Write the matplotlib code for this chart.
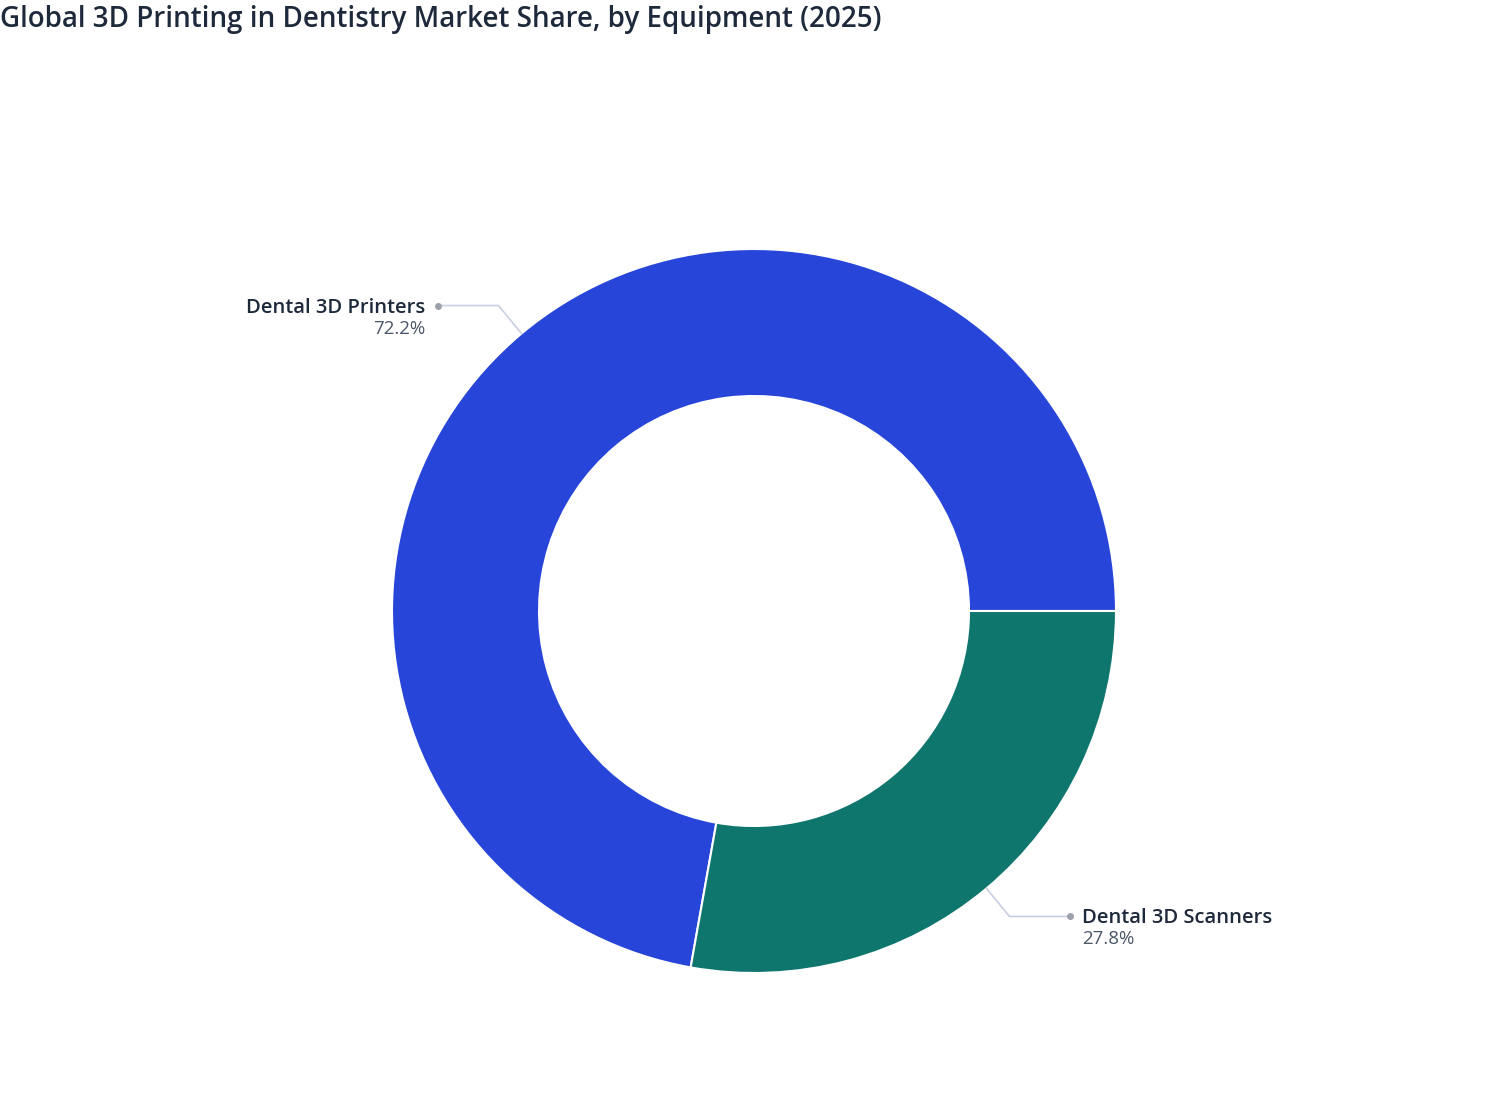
import numpy as np
import matplotlib; matplotlib.use("Agg")
import matplotlib.pyplot as plt

plt.rcParams["font.family"] = ["Open Sans", "DejaVu Sans"]

# data
labels = ["Dental 3D Printers", "Dental 3D Scanners"]
shares = [72.2, 27.8]
colors = ["#2745D8", "#0F766E"]
title = "Global 3D Printing in Dentistry Market Share, by Equipment (2025)"

W, H = 1508, 1120
fig = plt.figure(figsize=(W/100, H/100), dpi=100)
ax = fig.add_axes([0, 0, 1, 1])
ax.set_xlim(0, W); ax.set_ylim(0, H); ax.set_aspect("equal"); ax.axis("off")

cx, cy, R = 754, H-611, 362
hole = 215/362
wedges, _ = ax.pie(shares, colors=colors, startangle=0, counterclock=True,
                   center=(cx, cy), radius=R, frame=True,
                   wedgeprops=dict(width=R*(1-hole), edgecolor="white", linewidth=1.5))
ax.set_xlim(0, W); ax.set_ylim(0, H); ax.axis("off")

# leader lines + labels
tot = sum(shares); a0 = 0.0
for i, (lab, v) in enumerate(zip(labels, shares)):
    mid = np.deg2rad(a0 + v/tot*360/2); a0 += v/tot*360
    x0, y0 = cx + R*np.cos(mid), cy + R*np.sin(mid)
    side = 1 if np.cos(mid) > 0 else -1
    x1, y1 = x0 + side*23, y0 + np.sign(np.sin(mid))*28
    x2 = x1 + side*61
    ax.plot([x0, x1, x2], [y0, y1, y1], color="#c9cfe2", lw=1.2, zorder=1)
    ax.plot([x2], [y1], "o", color="#9ca0ab", ms=4, zorder=2)
    tx = x2 + side*12
    ha = "left" if side > 0 else "right"
    ax.text(tx, y1-2, lab, ha=ha, va="center", fontsize=14.5, fontweight="semibold", color="#1e293b")
    ax.text(tx, y1-23, f"{v:.1f}%", ha=ha, va="center", fontsize=13.5, color="#4b5568")

fig.text(0.0, 1-19/H, title, ha="left", va="center", fontsize=20, fontweight="semibold", color="#1e293b")
fig.savefig("out.png", dpi=100)
